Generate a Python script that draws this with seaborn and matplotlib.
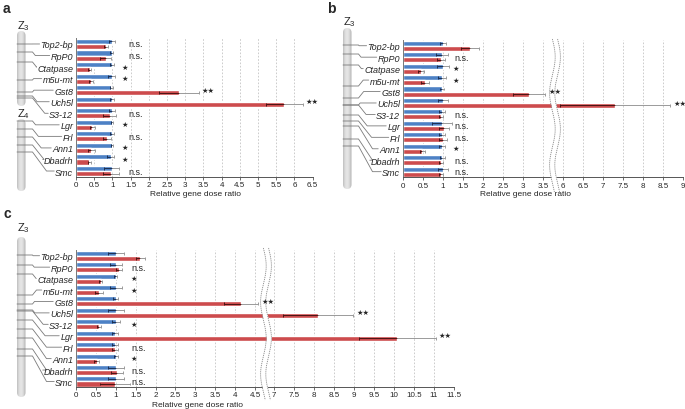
import numpy as np
import pandas as pd
import matplotlib
matplotlib.use("Agg")
import matplotlib.pyplot as plt
import matplotlib.transforms as mtransforms
from matplotlib.patches import FancyBboxPatch
import seaborn as sns

# --- data (ratio per gene; blue = control, red = test) ---
genes = ["Top2-bp", "RpP0", "Ctatpase", "m5u-mt", "Gst8", "Uch5l",
         "S3-12", "Lgr", "Frl", "Ann1", "Dbadrh", "Smc"]

a_ctrl = [0.98, 0.98, 0.98, 0.98, 0.97, 0.98, 0.98, 0.98, 0.98, 0.98, 0.95, 0.98]
a_ctrl_err = [0.08, 0.04, 0.05, 0.10, 0.05, 0.05, 0.08, 0.03, 0.05, 0.03, 0.10, 0.20]
a_test = [0.82, 0.82, 0.38, 0.42, 2.82, 5.72, 0.92, 0.45, 0.85, 0.42, 0.37, 0.95]
a_test_err = [0.06, 0.15, 0.04, 0.05, 0.55, 0.50, 0.18, 0.07, 0.10, 0.10, 0.05, 0.22]
a_sig = ["n.s.", "n.s.", "*", "*", "**", "**", "n.s.", "*", "n.s.", "*", "*", "n.s."]

b_ctrl = [1.00, 0.98, 1.00, 0.98, 0.98, 1.00, 0.98, 0.98, 0.98, 0.98, 0.98, 1.00]
b_ctrl_err = [0.08, 0.15, 0.15, 0.10, 0.05, 0.13, 0.07, 0.25, 0.08, 0.07, 0.06, 0.13]
b_test = [1.68, 0.95, 0.45, 0.55, 3.15, 7.30, 0.95, 1.02, 1.00, 0.48, 0.95, 0.95]
b_test_err = [0.22, 0.10, 0.08, 0.10, 0.41, 1.38, 0.06, 0.12, 0.10, 0.06, 0.05, 0.06]
b_sig = ["", "n.s.", "*", "*", "**", "**", "n.s.", "n.s.", "n.s.", "*", "n.s.", "n.s."]

c_ctrl = [1.00, 1.00, 1.00, 1.00, 1.00, 1.00, 1.00, 0.98, 0.98, 1.00, 1.00, 1.00]
c_ctrl_err = [0.20, 0.15, 0.04, 0.15, 0.06, 0.20, 0.10, 0.08, 0.08, 0.05, 0.20, 0.20]
c_test = [1.62, 1.08, 0.62, 0.57, 4.15, 8.10, 0.58, 10.08, 0.98, 0.52, 1.02, 0.98]
c_test_err = [0.12, 0.08, 0.03, 0.10, 0.43, 0.87, 0.05, 0.96, 0.08, 0.07, 0.15, 0.38]
c_sig = ["", "n.s.", "*", "*", "**", "**", "*", "**", "n.s.", "*", "n.s.", "n.s."]

# --- layout (pixels of the 685x410 picture) ---
W, H = 685, 410
BLUE, RED = "#4d81c5", "#cd4b4d"
DARK = {"ctrl": "#1c2f52", "test": "#4a1414"}
GRAY = "#9a9a9a"

sns.set_style("white")
plt.rcParams["font.family"] = ["Liberation Sans", "DejaVu Sans"]
plt.rcParams["mathtext.default"] = "regular"

fig = plt.figure(figsize=(W / 100, H / 100), dpi=100)
PX = mtransforms.Affine2D().scale(1 / W, -1 / H).translate(0, 1) + fig.transFigure


def px_axes(x0, y0, x1, y1, z=1):
    ax = fig.add_axes([x0 / W, 1 - y1 / H, (x1 - x0) / W, (y1 - y0) / H])
    ax.set_zorder(z)
    ax.patch.set_alpha(0)
    return ax


def make_df(ctrl, test):
    return pd.DataFrame({
        "gene": genes * 2,
        "ratio": ctrl + test,
        "group": ["ctrl"] * len(genes) + ["test"] * len(genes),
    })


def draw_bars(ax, df, ctrl_err, test_err, xlim, ticks, labels=True):
    sns.barplot(data=df, x="ratio", y="gene", hue="group", order=genes,
                hue_order=["ctrl", "test"], orient="h", palette=[BLUE, RED],
                saturation=1, width=0.88, errorbar=None, legend=False,
                ax=ax, zorder=2)
    # error bars: darker part inside the bar, gray part outside
    bars = sorted(ax.patches, key=lambda p: p.get_y())
    errs = [e for pair in zip(ctrl_err, test_err) for e in pair]
    kinds = ["ctrl", "test"] * len(genes)
    for p, e, k in zip(bars, errs, kinds):
        y = p.get_y() + p.get_height() / 2
        v = p.get_width()
        ax.hlines(y, v, v + e, color=GRAY, lw=0.7, zorder=3)
        ax.vlines(v + e, y - 0.13, y + 0.13, color=GRAY, lw=0.7, zorder=3)
        ax.hlines(y, v - e, v, color=DARK[k], lw=0.7, zorder=3)
        ax.vlines(v - e, y - 0.13, y + 0.13, color=DARK[k], lw=0.7, zorder=3)
    ax.set_xlim(*xlim)
    ax.set_ylim(len(genes) - 0.5, -0.5)
    ax.set_xticks(ticks)
    ax.set_xticklabels([f"{t:g}" for t in ticks])
    ax.xaxis.grid(True, ls=(0, (2, 2)), color="#c4c4c4", lw=0.6)
    ax.set_axisbelow(True)
    ax.set_xlabel("")
    ax.set_ylabel("")
    ax.tick_params(axis="x", length=2, width=0.6, color="#555555",
                   labelsize=5.8, pad=1, bottom=True)
    ax.tick_params(axis="y", length=0, labelsize=6.5, pad=2)
    for s in ["top", "right"]:
        ax.spines[s].set_visible(False)
    ax.spines["bottom"].set_color("#555555")
    ax.spines["bottom"].set_linewidth(0.7)
    ax.spines["left"].set_color("#777777")
    ax.spines["left"].set_linewidth(0.7)
    if labels:
        for t in ax.get_yticklabels():
            t.set_fontstyle("italic")
    else:
        ax.set_yticklabels([])
        ax.spines["left"].set_visible(False)


def annotate(axes, sig, ctrl, ctrl_err, test, test_err, ns_x, star_x):
    for i, s in enumerate(sig):
        if not s:
            continue
        if s == "n.s.":
            axes[0].text(ns_x, i, "n.s.", fontsize=6.5, ha="left", va="center", zorder=6)
        elif s == "*":
            axes[0].text(star_x, i, "★", fontsize=5.2, ha="center", va="center", zorder=6)
        else:
            x = max(ctrl[i] + ctrl_err[i], test[i] + test_err[i]) + 0.08
            ax = axes[0] if len(axes) == 1 or x < axes[0].get_xlim()[1] else axes[1]
            ax.text(x, i, "★★", fontsize=5.2, ha="left", va="center",
                    zorder=6, clip_on=False)


def draw_break(ax, cx, y0, y1):
    yy = np.linspace(y0, y1, 300)
    xx = cx + 2.8 * np.sin(2 * np.pi * (yy - y0) / 72)
    ax.fill_betweenx(yy, xx - 2.6, xx + 2.6, color="white", transform=PX,
                     clip_on=False, zorder=5, lw=0)
    for off in (-2.6, 2.6):
        ax.plot(xx + off, yy, color="#8a8a8a", lw=0.6, ls=(0, (1.5, 1)),
                transform=PX, clip_on=False, zorder=5)


# panel a
ax_a = px_axes(76, 39.2, 312.7, 177.8)
draw_bars(ax_a, make_df(a_ctrl, a_test), a_ctrl_err, a_test_err,
          (0, 6.5), np.arange(0, 6.51, 0.5))
annotate([ax_a], a_sig, a_ctrl, a_ctrl_err, a_test, a_test_err, 1.45, 1.35)

# panel b (broken axis 3.75 -> 5.75)
ax_b1 = px_axes(403, 41, 553, 178.4, z=3)
ax_b2 = px_axes(553, 41, 683, 178.4, z=1)
df_b = make_df(b_ctrl, b_test)
draw_bars(ax_b1, df_b, b_ctrl_err, b_test_err, (0, 3.75), np.arange(0, 3.51, 0.5))
draw_bars(ax_b2, df_b, b_ctrl_err, b_test_err, (5.75, 9), np.arange(6, 9.01, 0.5),
          labels=False)
annotate([ax_b1, ax_b2], b_sig, b_ctrl, b_ctrl_err, b_test, b_test_err, 1.28, 1.33)
draw_break(ax_b1, 555, 40, 193)

# panel c (broken axis 4.75 -> 6.77)
ax_c1 = px_axes(76, 251, 265, 388.2, z=3)
ax_c2 = px_axes(265, 251, 454, 388.2, z=1)
df_c = make_df(c_ctrl, c_test)
draw_bars(ax_c1, df_c, c_ctrl_err, c_test_err, (0, 4.75), np.arange(0, 4.51, 0.5))
draw_bars(ax_c2, df_c, c_ctrl_err, c_test_err, (6.77, 11.5), np.arange(7, 11.51, 0.5),
          labels=False)
annotate([ax_c1, ax_c2], c_sig, c_ctrl, c_ctrl_err, c_test, c_test_err, 1.38, 1.45)
draw_break(ax_c1, 266, 249, 401)

# axis titles, panel letters
for x, y in [(196, 194.5), (525, 195), (197, 405.5)]:
    fig.text(x / W, 1 - y / H, "Relative gene dose ratio", fontsize=6,
             ha="center", va="center")
for x, y, s in [(3, 9, "a"), (327, 9, "b"), (3, 214, "c")]:
    fig.text(x / W, 1 - y / H, s, fontsize=10, fontweight="bold",
             ha="left", va="center")

# chromosomes with connector lines (overlay in pixel coords)
ov = fig.add_axes([0, 0, 1, 1])
ov.set_zorder(-1)
ov.axis("off")


def chromosome(x0, y0, x1, y1):
    box = FancyBboxPatch((x0, y0), x1 - x0, y1 - y0,
                         boxstyle="round,pad=0,rounding_size=4.5",
                         facecolor="none", edgecolor="none")
    ov.add_patch(box)
    g = np.linspace(0, 1, 40)
    shade = 0.66 + 0.24 * (1 - ((g - 0.45) / 0.55) ** 2)
    img = np.dstack([shade, shade, shade]).reshape(1, 40, 3)
    im = ov.imshow(img, extent=(x0, x1, y1, y0), aspect="auto",
                   interpolation="bicubic")
    im.set_clip_path(box)


chromosome(17, 32, 25.5, 107)
chromosome(17, 120, 25.5, 192)
chromosome(343, 29, 351.5, 190)
chromosome(17, 238, 25.5, 398)
ov.set_xlim(0, W)
ov.set_ylim(H, 0)

for x, y, n in [(17, 26, "3"), (17, 114, "4"), (343, 22, "3"), (17, 228, "3")]:
    fig.text(x / W, 1 - y / H, f"Z$_{n}$", fontsize=8, ha="left", va="center")

# where each gene's line leaves the chromosome
chr_y_a = [45, 53, 63, 81, 93, 97, 99, 122, 130, 138, 146, 153]
chr_y_b = [46, 55, 66, 87, 99, 106, 106, 116, 122, 127, 140, 147]
chr_y_c = [256, 266, 275, 296, 305, 311, 312, 321, 330, 339, 350, 357]

fig.canvas.draw()
renderer = fig.canvas.get_renderer()


def connectors(ax, chr_y, cx0, cx1):
    for i, lbl in enumerate(ax.get_yticklabels()):
        bb = lbl.get_window_extent(renderer)
        lx = bb.x0 - 1
        ly = H - ax.transData.transform((0, i))[1]
        y0 = chr_y[i]
        x1 = cx1 + 7
        x2 = x1 + min(0.8 * abs(ly - y0), 14)
        ov.plot([cx0, x1, x2, lx], [y0, y0, ly, ly], color="#7a7a7a", lw=0.6,
                solid_joinstyle="round")


connectors(ax_a, chr_y_a, 17, 25.5)
connectors(ax_b1, chr_y_b, 343, 351.5)
connectors(ax_c1, chr_y_c, 17, 25.5)
ov.set_xlim(0, W)
ov.set_ylim(H, 0)

fig.savefig("out.png", dpi=100)
